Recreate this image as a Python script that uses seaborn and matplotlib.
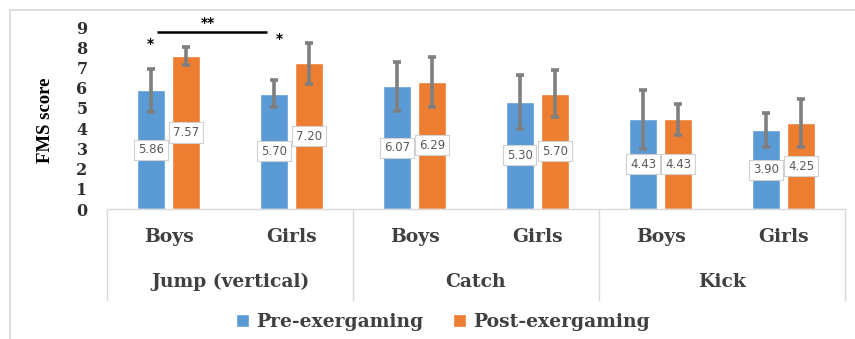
import numpy as np
import pandas as pd
import matplotlib
matplotlib.use("Agg")
import matplotlib.pyplot as plt
import seaborn as sns
from matplotlib.lines import Line2D

# FMS scores before and after the exergaming programme
skills = ["Jump (vertical)", "Catch", "Kick"]
genders = ["Boys", "Girls"]
phases = ["Pre-exergaming", "Post-exergaming"]
pre_mean = [5.86, 5.70, 6.07, 5.30, 4.43, 3.90]
post_mean = [7.57, 7.20, 6.29, 5.70, 4.43, 4.25]
pre_sd = [1.08, 0.67, 1.22, 1.35, 1.45, 0.83]
post_sd = [0.43, 1.03, 1.23, 1.15, 0.77, 1.20]
colors = ["#5B9BD5", "#ED7D31"]

groups = [f"{s}|{g}" for s in skills for g in genders]
df = pd.DataFrame({
    "group": groups * 2,
    "phase": [phases[0]] * len(groups) + [phases[1]] * len(groups),
    "score": pre_mean + post_mean,
})

sns.set_theme(style="white")
SERIF = "DejaVu Serif"
plt.rcParams["font.family"] = ["DejaVu Sans"]

W, H = 855, 339
fig = plt.figure(figsize=(W / 100, H / 100), dpi=100)
ax = fig.add_axes([107 / W, 1 - 209 / H, (845 - 107) / W, (209 - 27) / H])

sns.barplot(data=df, x="group", y="score", hue="phase", order=groups,
            hue_order=phases, palette=colors, saturation=1, width=0.57,
            gap=0.2, errorbar=None, ax=ax)

handles, labels = ax.get_legend_handles_labels()
ax.get_legend().remove()

ax.set_xlim(-0.5, len(groups) - 0.5)
ax.set_ylim(0, 9)
ax.set_yticks(range(10))
ax.set_yticklabels([str(i) for i in range(10)], family=SERIF,
                   fontweight="bold", fontsize=11.5, color="#303030")
ax.tick_params(axis="y", length=0, pad=14)
ax.set_xticks([])
ax.set_xlabel("")
ax.set_ylabel("")
for side in ["top", "right", "left"]:
    ax.spines[side].set_visible(False)
ax.spines["bottom"].set_color("#D9D9D9")
ax.spines["bottom"].set_linewidth(1.0)

# error bars and value labels
sds = [pre_sd, post_sd]
bar_containers = list(ax.containers)
for k, cont in enumerate(bar_containers):
    xs, ys = [], []
    for bar in cont:
        xs.append(bar.get_x() + bar.get_width() / 2)
        ys.append(bar.get_height())
    ax.errorbar(xs, ys, yerr=sds[k], fmt="none", ecolor="#7F7F7F",
                elinewidth=2.6, capsize=2.8, capthick=2.6, zorder=4)
    for x, y in zip(xs, ys):
        ax.text(x, y / 2, f"{y:.2f}", ha="center", va="center",
                fontsize=8.5, color="#595959", zorder=5 + k,
                bbox=dict(boxstyle="square,pad=0.3", fc="white",
                          ec="#D0D0D0", lw=0.8))

# two-level category axis
xt = ax.get_xaxis_transform()
for i, g in enumerate(groups):
    ax.text(i, -0.154, g.split("|")[1], transform=xt, ha="center",
            va="center", family=SERIF, fontweight="bold", fontsize=13.5,
            color="#404040")
for j, s in enumerate(skills):
    ax.text(2 * j + 0.5, -0.401, s, transform=xt, ha="center", va="center",
            family=SERIF, fontweight="bold", fontsize=13.5, color="#404040")
for xb in [-0.5, 1.5, 3.5, 5.5]:
    ax.plot([xb, xb], [0, -0.5], transform=xt, color="#D9D9D9", lw=1.0,
            clip_on=False)

# significance markers
ax.plot([-0.093, 0.80], [8.76, 8.76], color="black", lw=1.8,
        clip_on=False, solid_capstyle="butt")
ax.text(0.32, 9.22, "**", ha="center", va="center", fontsize=10,
        fontweight="bold", color="black", clip_on=False)
ax.text(-0.15, 8.15, "*", ha="center", va="center", fontsize=10,
        fontweight="bold", color="black")
ax.text(0.90, 8.4, "*", ha="center", va="center", fontsize=10,
        fontweight="bold", color="black")

fig.text(45 / W, 1 - 120 / H, "FMS score", rotation=90, ha="center",
         va="center", family="Liberation Serif", fontweight="bold",
         fontsize=13.5, color="black")

fig.legend(handles, labels, loc="center", bbox_to_anchor=(443 / W, 1 - 322 / H),
           ncol=2, frameon=False, handlelength=0.7, handleheight=0.7,
           handletextpad=0.35, columnspacing=1.6,
           prop=dict(family=SERIF, weight="bold", size=13.5))
for t in fig.legends[0].get_texts():
    t.set_color("#404040")

# outer chart border
fig.add_artist(Line2D([10 / W, 1], [1 - 10 / H, 1 - 10 / H], color="#D9D9D9",
                      lw=1.2, transform=fig.transFigure))
fig.add_artist(Line2D([10 / W, 10 / W], [0, 1 - 10 / H], color="#D9D9D9",
                      lw=1.2, transform=fig.transFigure))

fig.savefig("out.png", dpi=100)
